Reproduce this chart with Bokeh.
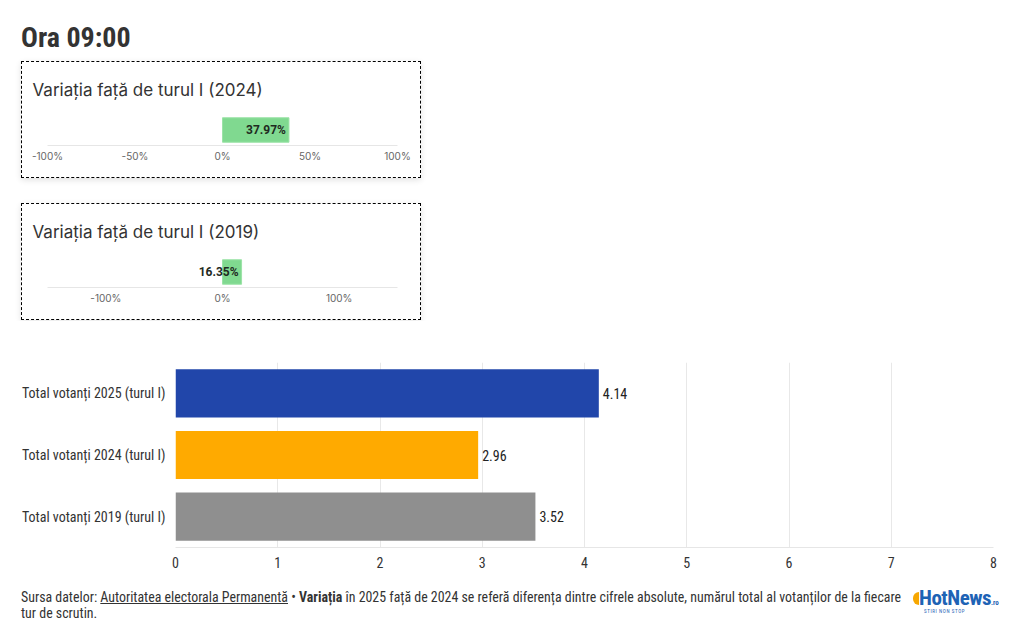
from bokeh.plotting import figure
from bokeh.models import Range1d, FactorRange, FixedTicker, Div, Spacer, ColumnDataSource, CustomJSTickFormatter
from bokeh.layouts import column, row
from bokeh.embed import file_html
from bokeh.resources import INLINE
from bokeh.core.properties import value

# ---------------- data ----------------
page_title = "Ora 09:00"
var_titles = ["Variația față de turul I (2024)", "Variația față de turul I (2019)"]
var_values = [37.97, 16.35]
var_ranges = [(-100, 100), (-150, 150)]
var_ticks = [[-100, -50, 0, 50, 100], [-100, 0, 100]]

categories = ["Total votanți 2025 (turul I)", "Total votanți 2024 (turul I)", "Total votanți 2019 (turul I)"]
totals = [4.14, 2.96, 3.52]
bar_colors = ["#2146aa", "#ffaa00", "#8f8f8f"]
x_ticks = [0, 1, 2, 3, 4, 5, 6, 7, 8]

NARROW = "'Roboto Condensed', sans-serif"
NARROW_SVG = "Roboto Condensed"


def panel(title, val, rng, ticks):
    p = figure(width=400, height=117, x_range=Range1d(*rng), y_range=Range1d(-0.5, 0.5),
               output_backend="svg", toolbar_location=None, y_axis_location=None,
               min_border_left=25, min_border_right=25, min_border_top=50, min_border_bottom=34,
               title=title,
               styles={"border": "1px dashed #000", "box-shadow": "0 2px 6px rgba(0,0,0,0.12)",
                       "background": "#fff", "box-sizing": "border-box"})
    src = ColumnDataSource(dict(y=[0], v=[val], lbl=[f"{val:.2f}%"]))
    p.hbar(y="y", left=0, right="v", height=0.79, source=src, fill_color="#80d990", line_color="#9be3a7")
    p.text(x="v", y="y", text="lbl", source=src, text_align="right", text_baseline="middle",
           x_offset=-3, text_font=value("Roboto"), text_font_style="bold", text_font_size="12px",
           text_color="#1f2a1f")
    p.title.text_font = "Inter"
    p.title.text_font_style = "normal"
    p.title.text_font_size = "17px"
    p.title.text_color = "#333333"
    p.title.text_line_height = 1.0
    p.title.align = "left"
    p.title.offset = -15
    p.title.standoff = 30
    p.xaxis.ticker = FixedTicker(ticks=ticks)
    p.xaxis.formatter = CustomJSTickFormatter(code="return tick + '%'")
    p.xaxis.axis_line_color = "#e6e6e6"
    p.xaxis.major_tick_line_color = None
    p.xaxis.minor_tick_line_color = None
    p.xaxis.major_tick_out = 0
    p.xaxis.major_tick_in = 0
    p.xaxis.major_label_text_font = "Inter"
    p.xaxis.major_label_text_font_size = "10px"
    p.xaxis.major_label_text_color = "#666666"
    p.xaxis.major_label_standoff = 4
    p.xgrid.visible = False
    p.ygrid.visible = False
    p.outline_line_color = None
    return p


title_div = Div(text=f'<div style="padding-left:21px;padding-top:24px;font-family:{NARROW};'
                     f'font-weight:bold;font-size:28px;line-height:1;color:#333;">{page_title}</div>',
                width=1020, height=61, margin=0)

p1 = panel(var_titles[0], var_values[0], var_ranges[0], var_ticks[0])
p2 = panel(var_titles[1], var_values[1], var_ranges[1], var_ticks[1])

factors = categories[::-1]
m = figure(width=1020, height=260, y_range=FactorRange(factors=factors), x_range=Range1d(0, 8),
           output_backend="svg", toolbar_location=None,
           min_border_left=175, min_border_right=27, min_border_top=42, min_border_bottom=33)
msrc = ColumnDataSource(dict(cat=categories, v=totals, c=bar_colors, lbl=[f"{t:.2f}" for t in totals]))
m.hbar(y="cat", left=0, right="v", height=0.78, fill_color="c", line_color=None, source=msrc)
m.text(x="v", y="cat", text="lbl", source=msrc, text_align="left", text_baseline="middle", x_offset=4,
       text_font=value(NARROW_SVG), text_font_size="14px", text_color="#222222")
m.xaxis.ticker = FixedTicker(ticks=x_ticks)
m.xaxis.axis_line_color = "#e6e6e6"
m.xaxis.major_tick_line_color = None
m.xaxis.minor_tick_line_color = None
m.xaxis.major_tick_out = 0
m.xaxis.major_label_text_font = NARROW_SVG
m.xaxis.major_label_text_font_size = "14px"
m.xaxis.major_label_text_color = "#333333"
m.xaxis.major_label_standoff = 9
m.yaxis.axis_line_color = None
m.yaxis.major_tick_line_color = None
m.yaxis.minor_tick_line_color = None
m.yaxis.major_tick_out = 0
m.yaxis.major_label_text_font = NARROW_SVG
m.yaxis.major_label_text_font_size = "14px"
m.yaxis.major_label_text_color = "#333333"
m.yaxis.major_label_standoff = 10
m.xgrid.grid_line_color = "#e8e8e8"
m.ygrid.visible = False
m.outline_line_color = None

footer_html = (
    f'<div style="position:relative;width:1020px;height:41px;font-family:{NARROW};font-size:13.9px;'
    f'line-height:16px;color:#333;">'
    f'<div style="position:absolute;left:21px;top:9px;white-space:nowrap;">'
    f'Sursa datelor: <u>Autoritatea electorala Permanentă</u> • <b>Variația</b> în 2025 față de 2024 se referă '
    f'diferența dintre cifrele absolute, numărul total al votanților de la fiecare<br>tur de scrutin.</div>'
    f'<div style="position:absolute;left:913px;top:12px;width:6px;height:13px;background:#f7a700;'
    f'border-radius:7px 0 0 7px;"></div>'
    f'<div style="position:absolute;left:919px;top:9px;white-space:nowrap;font-family:{NARROW};'
    f'font-weight:bold;font-size:21px;letter-spacing:-0.5px;color:#1e63b5;line-height:18px;">'
    f'HotNews<span style="font-size:7px;letter-spacing:0;">.ro</span></div>'
    f'<div style="position:absolute;left:924px;top:29px;white-space:nowrap;font-family:{NARROW};'
    f'font-size:5px;letter-spacing:0.6px;color:#1e63b5;line-height:5px;">STIRI NON STOP</div>'
    f'</div>'
)
footer = Div(text=footer_html, width=1020, height=41, margin=0)

layout = column(title_div, row(Spacer(width=21), p1), Spacer(height=25), row(Spacer(width=21), p2),
                m, footer, spacing=0)

open("out.html", "w").write(file_html(layout, INLINE))
